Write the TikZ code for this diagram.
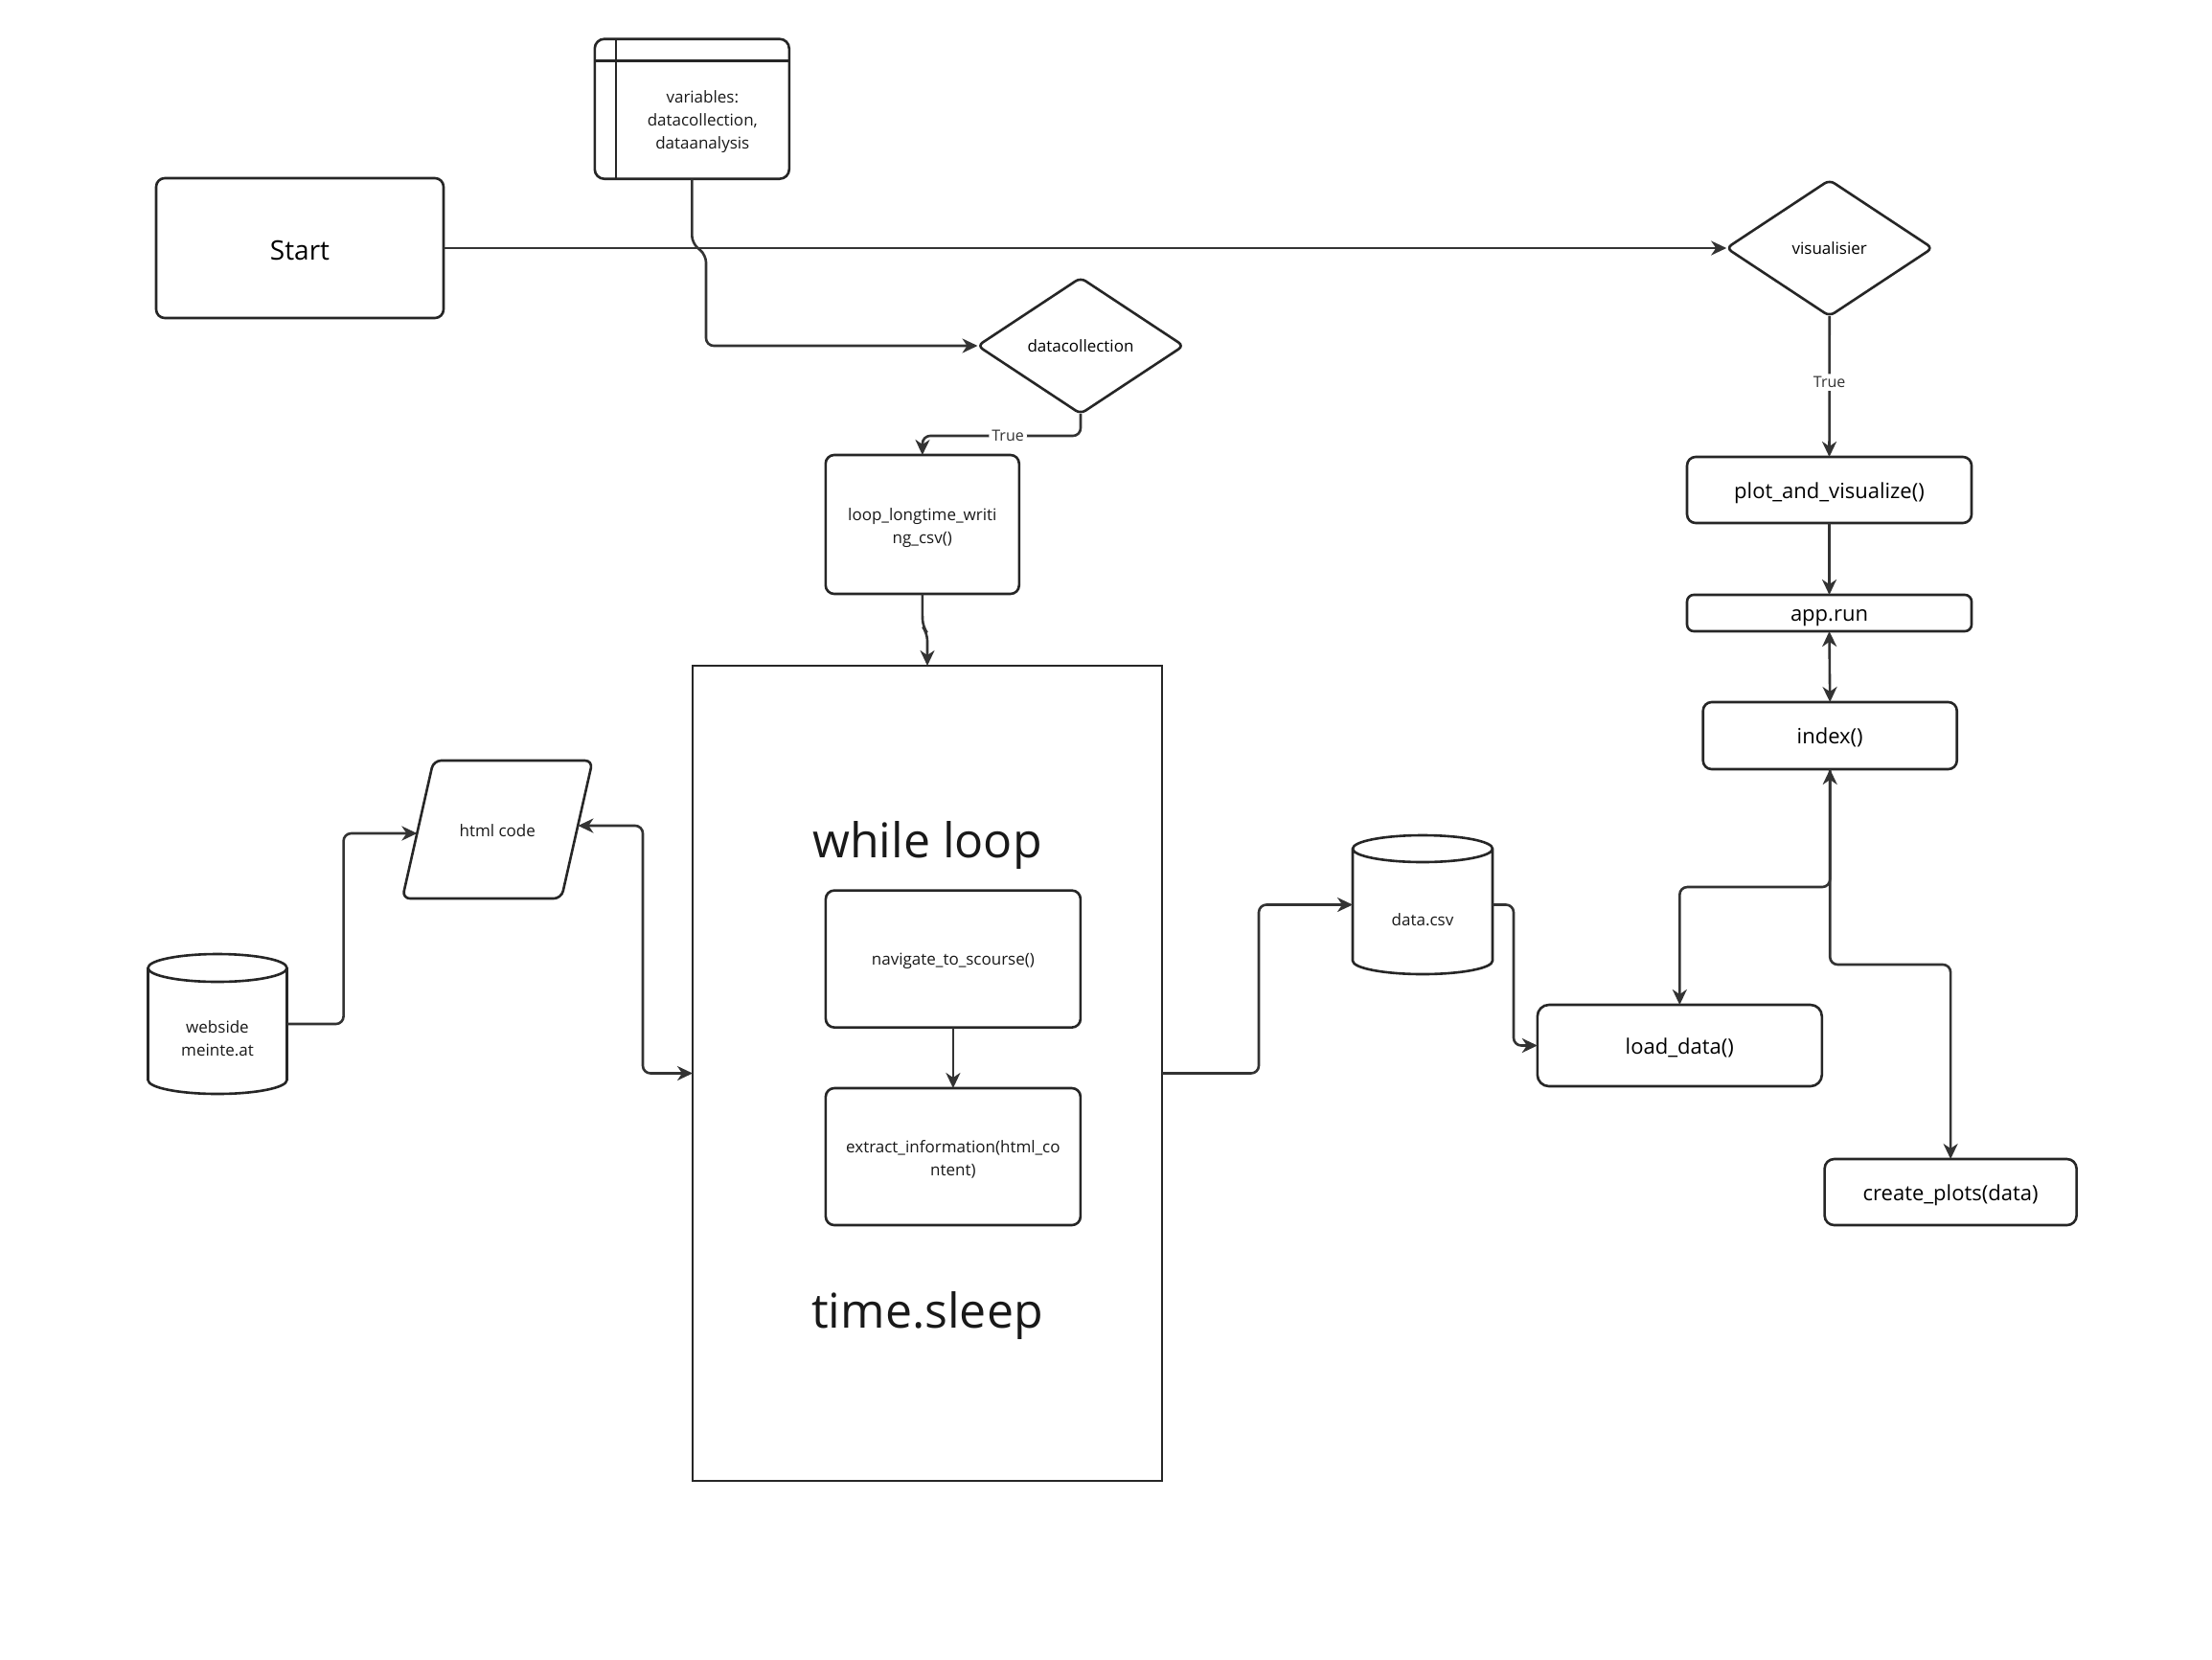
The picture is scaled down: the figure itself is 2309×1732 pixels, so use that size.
\documentclass[tikz,border=0pt]{standalone}
\usepackage{fontspec}
\setmainfont{Open Sans}
\usetikzlibrary{arrows.meta,calc,shapes.geometric}
\begin{document}
\begin{tikzpicture}[x=1pt,y=-1pt,
  every node/.style={inner sep=0pt, outer sep=0pt},
  shp/.style={draw=black!85, line width=2.6pt},
  rbox/.style={shp, rectangle, rounded corners=9pt, align=center, font=\fontsize{17}{24}\selectfont},
  dia/.style={shp, diamond, rounded corners=6pt, minimum width=215pt, minimum height=142pt, align=center, font=\fontsize{17}{24}\selectfont},
  txt/.style={align=center, font=\fontsize{17}{24}\selectfont, text=black!90},
  bigtxt/.style={align=center, font=\fontsize{50}{60}\selectfont, text=black!90},
  midtxt/.style={font=\fontsize{22}{26}\selectfont, text height=19pt, text depth=2pt},
  conn/.style={draw=black!80, line width=2.6pt, rounded corners=8pt, -{Stealth[length=16pt,width=15pt,inset=5pt]}},
  conntwo/.style={draw=black!80, line width=2.6pt, rounded corners=8pt, {Stealth[length=16pt,width=15pt,inset=5pt]}-{Stealth[length=16pt,width=15pt,inset=5pt]}},
  lbl/.style={fill=white, inner sep=3pt, font=\fontsize{16}{18}\selectfont, text=black!80}
]
\fill[white] (0,0) rectangle (2309,1732);
\useasboundingbox (0,0) rectangle (2309,1732);

% ---- nodes
\node[rbox, minimum width=300pt, minimum height=146pt, font=\fontsize{28}{34}\selectfont, text height=26pt, text depth=2pt] (start) at (313,259) {Start};

\node[rbox, rounded corners=10pt, minimum width=203pt, minimum height=146pt] (vars) at (722.3,113.7) {};
\draw[shp] ([xshift=22pt]vars.north west) -- ([xshift=22pt]vars.south west);
\draw[shp] ([yshift=-22.6pt]vars.north west) -- ([yshift=-22.6pt]vars.north east);
\node[txt] (varst) at (733.3,127) {variables:\\datacollection,\\dataanalysis};

\node[dia] (dc) at (1128,361) {datacollection};
\node[dia] (vis) at (1909.7,259) {visualisier};

\node[rbox, minimum width=202pt, minimum height=145pt] (loop) at (962.8,547.5) {};
\node[txt] (loopt) at (962.8,551) {loop\_longtime\_writi\\ng\_csv()};

\node[shp, rectangle, minimum width=490pt, minimum height=851pt] (while) at (968,1120.5) {};
\node[bigtxt] (whilet) at (968,882) {while loop};
\node[bigtxt] (sleept) at (968,1373) {time.sleep};
\node[rbox, minimum width=266pt, minimum height=143pt] (nav) at (994.9,1001.1) {};
\node[txt] (navt) at (994.9,1003) {navigate\_to\_scourse()};
\node[rbox, minimum width=266pt, minimum height=143pt] (ext) at (994.9,1207.5) {};
\node[txt] (extt) at (994.9,1210.5) {extract\_information(html\_co\\ntent)};

\node[rbox, midtxt, minimum width=297pt, minimum height=69pt] (plot) at (1909.5,511.5) {plot\_and\_visualize()};
\node[rbox, midtxt, rounded corners=7pt, minimum width=297pt, minimum height=38pt] (app) at (1909.5,640) {app.run};
\node[rbox, midtxt, minimum width=265pt, minimum height=70pt] (index) at (1910.2,768) {index()};
\node[rbox, midtxt, rounded corners=12pt, minimum width=297pt, minimum height=85pt] (load) at (1753.3,1091.5) {load\_data()};
\node[rbox, midtxt, rounded corners=10pt, minimum width=263pt, minimum height=69pt] (cp) at (2036.1,1244.5) {create\_plots(data)};

% data.csv cylinder
\node[minimum width=146pt, minimum height=145pt] (csv) at (1485,944.5) {};
\draw[shp] ([yshift=-14pt]csv.north west) -- ([yshift=14pt]csv.south west)
  arc[start angle=180, end angle=360, x radius=73pt, y radius=14pt]
  -- ([yshift=-14pt]csv.north east)
  arc[start angle=0, end angle=360, x radius=73pt, y radius=14pt];
\node[txt] (csvt) at (1485,960) {data.csv};

% webside cylinder
\node[minimum width=145pt, minimum height=146pt] (web) at (227,1069) {};
\draw[shp] ([yshift=-14.5pt]web.north west) -- ([yshift=14.5pt]web.south west)
  arc[start angle=180, end angle=360, x radius=72.5pt, y radius=14.5pt]
  -- ([yshift=-14.5pt]web.north east)
  arc[start angle=0, end angle=360, x radius=72.5pt, y radius=14.5pt];
\node[txt] (webt) at (227,1084) {webside\\meinte.at};

% html code parallelogram
\coordinate (htl) at (452.5,794);
\coordinate (htr) at (618.6,794);
\coordinate (hbr) at (586,938);
\coordinate (hbl) at (420,938);
\draw[shp, rounded corners=8pt] (htl) -- (htr) -- (hbr) -- (hbl) -- cycle;
\node[txt] (html) at (519.3,867.5) {html code};
\coordinate (hl) at (435.4,870);
\coordinate (hr) at (603.4,862);

% ---- connectors
\draw[conn] (start.east) -- (vis.west);
\draw[conn] (vars.south) -- (722.3,254) -- (737,266) -- (737,361) -- (dc.west);
\draw[conn] (dc.south) -- (1128,455) -- node[lbl, pos=0.46] {True} (963,455) -- (loop.north);
\draw[conn] (loop.south) -- (963,654) -- (968,661) -- (while.north);
\draw[conn] (nav.south) -- (ext.north);
\draw[conn] (vis.south) -- node[lbl, pos=0.47] {True} (plot.north);
\draw[conn] (plot.south) -- (app.north);
\draw[conntwo] (app.south) -- (index.north);
\draw[conntwo] (index.south) -- (1910.2,926) -- (1753.3,926) -- (load.north);
\draw[conn] (index.south) -- (1910.2,1007) -- (2036.1,1007) -- (cp.north);
\draw[conn] (while.east) -- (1314,1120.5) -- (1314,944.5) -- (csv.west);
\draw[conn] (csv.east) -- (1580,944.5) -- (1580,1091.5) -- (load.west);
\draw[conn] (web.east) -- (358.6,1069) -- (358.6,870) -- (hl);
\draw[conntwo] (hr) -- (671,862) -- (671,1120.5) -- (while.west);
\end{tikzpicture}
\end{document}
